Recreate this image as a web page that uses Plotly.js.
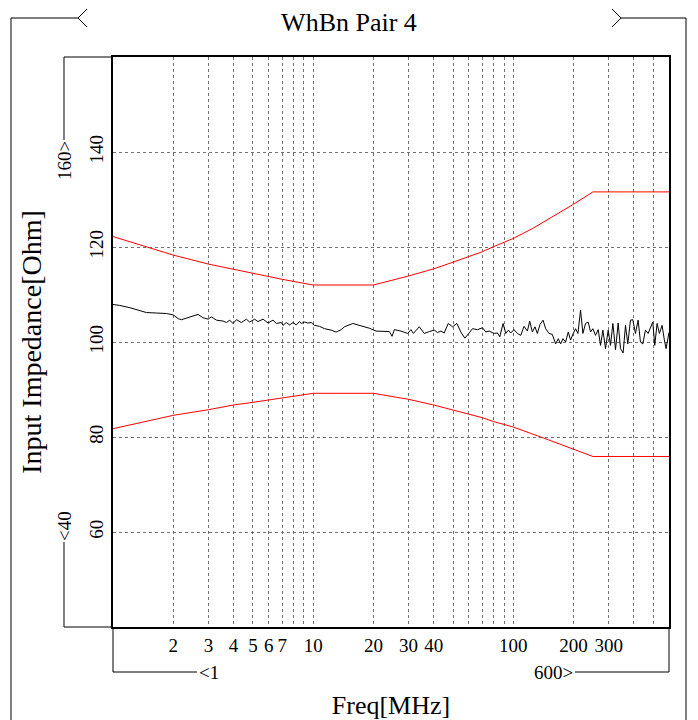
<!DOCTYPE html>
<html><head><meta charset="utf-8">
<script src="https://cdn.plot.ly/plotly-3.0.1.min.js"></script>
<style>body{margin:0;background:#fff}#chart{width:698px;height:720px}</style>
</head><body><div id="chart"></div>
<script>
// ---- data ----
const chartTitle = 'WhBn Pair 4';
const xTitle = 'Freq[MHz]';
const yTitle = 'Input Impedance[Ohm]';

const measFreq = [1.00,1.08,1.22,1.36,1.47,1.65,1.85,2.00,2.12,2.20,2.37,2.66,2.82,2.99,3.10,3.29,3.55,3.69,3.83,3.98,4.14,4.38,4.64,4.82,5.10,5.30,5.62,5.95,6.30,6.55,6.93,7.07,7.34,7.63,7.93,8.23,8.55,
8.72,9.06,9.41,9.78,10.16,10.76,11.40,12.31,13.03,13.80,14.34,15.78,17.36,19.10,20.63,22.27,24.04,24.79,25.46,27.48,29.67,30.83,31.66,33.92,35.93,38.05,40.29,41.86,43.49,45.19,47.31,49.72,52.26,54.71,57.29,60.21,62.56,66.26,70.17,
72.9,75.75,80.22,83.34,85.62,88.96,91.73,94.57,97.14,100.9,104.9,109.0,113.2,117.6,120.8,124.6,128.4,131.9,136.0,140.8,145.2,150.9,156.7,162.8,167.9,172.4,177.1,182.6,188.3,193.4,199.4,204.8,210.4,216.9,222.8,229.7,236.9,243.3,249.9,257.7,265.7,272.9,280.4,289.1,298.1,306.2,314.5,324.3,334.3,343.4,354.0,363.7,373.6,385.2,395.6,407.9,420.6,432.0,443.8,457.6,471.8,484.6,497.8,509.3,523.1,537.3,554.0,569.0,580.0,600];
const measZin = [107.9,107.7,107.2,106.7,106.2,106.1,106.0,105.7,104.9,104.7,105.1,105.8,105.1,104.8,105.3,104.6,104.4,104.1,104.6,103.9,104.7,104.1,104.8,104.2,104.8,104.3,104.8,104.0,104.6,103.9,104.1,103.5,104.1,103.6,104.1,103.6,104.3,
103.9,104.2,104.0,104.1,103.5,103.3,102.8,102.5,102.1,102.6,103.2,103.9,103.4,102.9,102.3,102.2,102.2,101.2,102.6,102.3,101.8,102.6,101.8,103.2,101.8,102.2,102.5,102.0,102.3,101.9,103.9,103.2,103.9,102.1,100.8,101.9,102.8,102.6,103.0,
102.1,102.3,101.8,101.9,101.1,103.9,101.8,102.5,101.9,102.6,101.8,101.4,103.3,102.3,104.4,102.1,103.2,101.8,103.7,104.6,102.8,101.8,101.6,99.6,100.7,99.6,100.7,100.0,102.1,100.4,101.8,102.8,101.8,106.7,101.8,103.9,104.2,102.1,102.8,101.4,102.6,99.3,102.5,98.6,102.5,99.3,103.9,98.4,104.0,98.6,97.7,103.5,99.6,104.6,104.7,101.8,104.6,100.0,99.6,102.5,101.8,103.2,104.2,99.3,103.9,101.8,103.5,100.4,98.6,102.0];

const upperFreq = [1,2,3,4,5,7,10,20,30,40,50,60,70,80,90,100,125,150,175,200,250,600];
const upperLim  = [122.2,118.3,116.4,115.3,114.4,113.2,112.0,112.0,113.9,115.4,116.8,118.0,119.0,120.1,121.0,121.8,123.9,125.9,127.5,129.0,131.6,131.6];
const lowerFreq = [1,2,3,4,5,7,10,20,30,40,50,60,70,80,100,150,200,250,600];
const lowerLim  = [81.75,84.56,85.75,86.74,87.3,88.3,89.2,89.2,87.93,86.74,85.61,84.84,84.07,83.23,82.1,79.4,77.4,75.9,75.9];

const xTickVals = [2,3,4,5,6,7,8,9,10,20,30,40,50,60,70,80,90,100,200,300,400,500];
const xTickText = ['2','3','4','5','6','7','','','10','20','30','40','','','','','','100','200','300','',''];
const yTickVals = [60,80,100,120,140];
const yTickText = ['60','80','100','120','140'];
const xMin = 1, xMax = 600, yMin = 40, yMax = 160;
const xMinLabel = '<1', xMaxLabel = '600>', yMinLabel = '<40', yMaxLabel = '160>';

// ---- layout helpers (pixel -> paper) ----
const L = 113, T = 57, W = 556, H = 570;
const px = x => (x - L) / W;
const py = y => (T + H - y) / H;
function path(pts){ return pts.map((p,i)=> (i?'L':'M') + px(p[0]).toFixed(5) + ',' + py(p[1]).toFixed(5)).join(' '); }
const lineStyle = {color:'#000', width:1};
const FONT = 'Liberation Serif, DejaVu Serif, serif';

const shapes = [
  {type:'path', xref:'paper', yref:'paper', path: path([[11,720],[11,18],[78,18]]), line: lineStyle},
  {type:'path', xref:'paper', yref:'paper', path: path([[87,9],[78,18],[87,27]]), line: lineStyle},
  {type:'path', xref:'paper', yref:'paper', path: path([[686,720],[686,18],[621,18]]), line: lineStyle},
  {type:'path', xref:'paper', yref:'paper', path: path([[612,9],[621,18],[612,27]]), line: lineStyle},
  {type:'path', xref:'paper', yref:'paper', path: path([[113,57],[64,57],[64,140]]), line: lineStyle},
  {type:'path', xref:'paper', yref:'paper', path: path([[64,542],[64,627],[113,627]]), line: lineStyle},
  {type:'path', xref:'paper', yref:'paper', path: path([[113,627],[113,672],[197,672]]), line: lineStyle},
  {type:'path', xref:'paper', yref:'paper', path: path([[575,672],[669,672],[669,627]]), line: lineStyle}
];
const annFont = {family: FONT, size: 19, color:'#000'};
const annotations = [
  {xref:'paper', yref:'paper', x: px(64), y: py(161), text: yMaxLabel, textangle:-90, showarrow:false, xanchor:'center', yanchor:'middle', font: annFont},
  {xref:'paper', yref:'paper', x: px(64), y: py(526), text: yMinLabel, textangle:-90, showarrow:false, xanchor:'center', yanchor:'middle', font: annFont},
  {xref:'paper', yref:'paper', x: px(197), y: py(672), text: xMinLabel, showarrow:false, xanchor:'left', yanchor:'middle', font: annFont},
  {xref:'paper', yref:'paper', x: px(575), y: py(672), text: xMaxLabel, showarrow:false, xanchor:'right', yanchor:'middle', font: annFont}
];

const traces = [
  {x: upperFreq, y: upperLim, type:'scatter', mode:'lines', line:{color:'#ff0000', width:1}, hoverinfo:'skip', name:'upper'},
  {x: lowerFreq, y: lowerLim, type:'scatter', mode:'lines', line:{color:'#ff0000', width:1}, hoverinfo:'skip', name:'lower'},
  {x: measFreq, y: measZin, type:'scatter', mode:'lines', line:{color:'#000000', width:1}, name:'Zin'}
];

const layout = {
  width: 698, height: 720, autosize:false,
  margin: {l: L, r: 698 - L - W, t: T, b: 720 - T - H, pad: 0},
  paper_bgcolor:'#fff', plot_bgcolor:'#fff',
  showlegend:false,
  font: {family: FONT, color:'#000'},
  title: {text: chartTitle, font:{family: FONT, size: 26, color:'#000'}, xref:'container', yref:'container', x:0.5, xanchor:'center', y: 1 - 22/720, yanchor:'middle'},
  xaxis: {type:'log', range:[Math.log10(xMin), Math.log10(xMax)], tickmode:'array', tickvals: xTickVals, ticktext: xTickText,
    showgrid:true, gridcolor:'#707070', gridwidth:1, griddash:'3px,3px', zeroline:false,
    showline:true, linecolor:'#000', linewidth:2, mirror:true, ticks:'', ticklabelstandoff: 0,
    tickfont:{family: FONT, size:19, color:'#000'},
    title:{text: xTitle, font:{family: FONT, size:26, color:'#000'}, standoff: 48}, automargin:false},
  yaxis: {range:[yMin, yMax], tickmode:'array', tickvals: yTickVals, ticktext: yTickText, tickangle:-90,
    showgrid:true, gridcolor:'#707070', gridwidth:1, griddash:'3px,3px', zeroline:false,
    showline:true, linecolor:'#000', linewidth:2, mirror:true, ticks:'', ticklabelstandoff: 0,
    tickfont:{family: FONT, size:19, color:'#000'},
    title:{text: yTitle, font:{family: FONT, size:28, color:'#000'}, standoff: 37}, automargin:false},
  shapes: shapes,
  annotations: annotations
};
Plotly.newPlot('chart', traces, layout, {displayModeBar:false, staticPlot:true});
</script></body></html>
